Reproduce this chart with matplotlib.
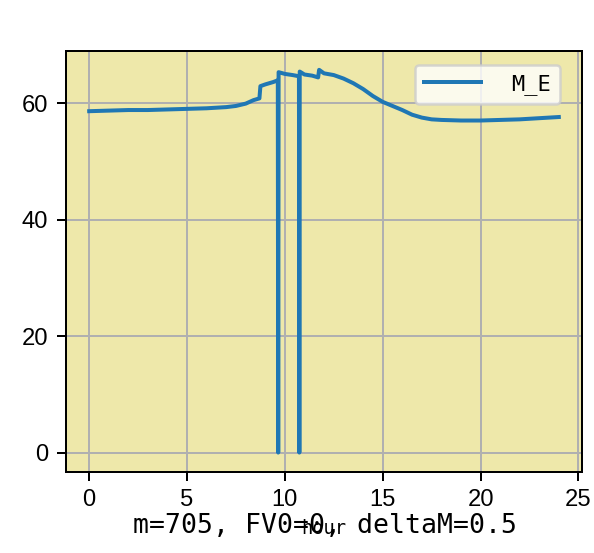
import matplotlib
matplotlib.use("Agg")
import matplotlib.pyplot as plt

# HOURLY READINGS OF M_E (TWO SHORT DROPOUTS TO ZERO AROUND 10 H)
hours = [0.0, 1.0, 2.0, 3.0, 4.0, 5.0, 6.0, 7.0, 7.5, 8.0, 8.4, 8.7, 8.75, 9.0, 9.4,
         9.64, 9.66, 9.68, 10.0, 10.4, 10.72, 10.74, 10.76, 11.0, 11.4, 11.7, 11.75,
         12.0, 12.5, 13.0, 13.5, 14.0, 14.5, 15.0, 15.5, 16.0, 16.5, 17.0, 17.5,
         18.0, 19.0, 20.0, 21.0, 22.0, 23.0, 24.0]
m_e = [58.6, 58.7, 58.8, 58.8, 58.9, 59.0, 59.1, 59.3, 59.5, 59.9, 60.5, 60.8, 62.9, 63.2, 63.6,
       63.9, 0.0, 65.3, 65.0, 64.8, 64.6, 0.0, 65.4, 64.9, 64.7, 64.4, 65.7,
       65.1, 64.8, 64.2, 63.4, 62.4, 61.2, 60.2, 59.5, 58.8, 58.0, 57.5, 57.2,
       57.1, 57.0, 57.0, 57.1, 57.2, 57.4, 57.6]

series_label = "M_E"
x_label = "hour"
note = "m=705, FV0=0, deltaM=0.5"

DPI = 180
MONO = ["DejaVu Sans Mono", "Noto Sans CJK SC"]

fig = plt.figure(figsize=(594 / DPI, 553 / DPI), dpi=DPI)
ax = fig.add_axes([65.7 / 594, 1 - 471.7 / 553, (582.3 - 65.7) / 594, (471.7 - 50.7) / 553])
ax.set_facecolor("#eee8aa")  # PALEGOLDENROD BACKGROUND

ax.plot(hours, m_e, color="#1f77b4", linewidth=1.6, label=series_label)

ax.grid(True)
ax.set_xticks([0, 5, 10, 15, 20, 25])
ax.set_yticks([0, 20, 40, 60])
ax.tick_params(labelsize=9.5)
for lab in ax.get_xticklabels() + ax.get_yticklabels():
    lab.set_family("Liberation Sans")

ax.set_xlabel(x_label, family=MONO, fontsize=7.5, labelpad=3)

ax.legend(loc="upper right", bbox_to_anchor=(0.957, 0.966), borderaxespad=0,
          prop={"family": MONO, "size": 8.8}, handlelength=2.6, handletextpad=1.4)

# NOTE UNDER THE AXES (OVERLAPS THE X LABEL AS IN THE ORIGINAL)
fig.text(0.547, 20 / 553, note, ha="center", va="baseline", family=MONO, fontsize=10.6)

fig.savefig("out.png", dpi=DPI)
